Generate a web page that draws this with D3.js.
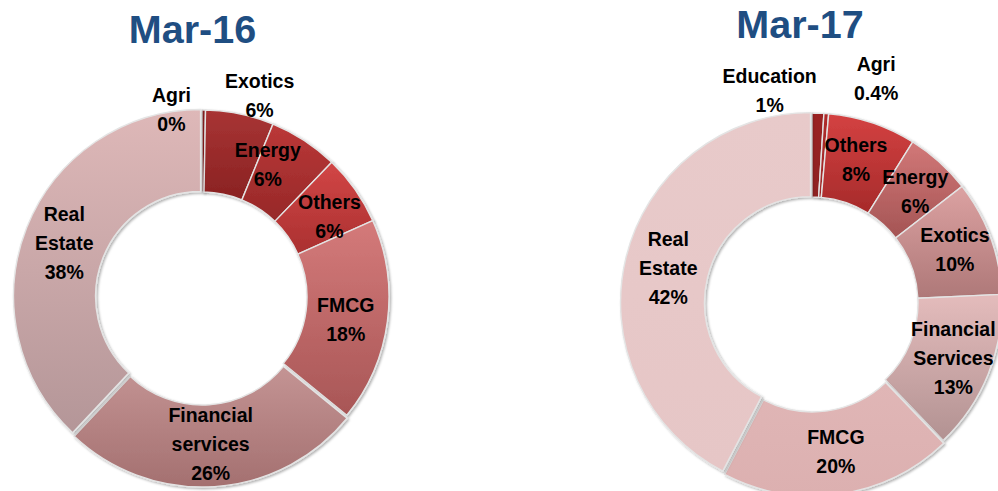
<!DOCTYPE html>
<html><head><meta charset="utf-8">
<script src="https://cdn.jsdelivr.net/npm/d3@7"></script>
<style>html,body{margin:0;padding:0;background:#fff;overflow:hidden}</style>
</head><body><svg id="c" width="998" height="491"></svg>
<script>
// ---- data ----
const titles = ["Mar-16", "Mar-17"];
const categories16 = ["Agri", "Exotics", "Energy", "Others", "FMCG", "Financial services", "Real Estate"];
const values16 = [0.3, 5.9, 6.0, 6.1, 17.6, 26.1, 38.0];
const labels16 = ["0%", "6%", "6%", "6%", "18%", "26%", "38%"];
const categories17 = ["Education", "Agri", "Others", "Energy", "Exotics", "Financial Services", "FMCG", "Real Estate"];
const values17 = [1.0, 0.4, 7.5, 5.6, 9.8, 13.6, 19.8, 42.4];
const labels17 = ["1%", "0.4%", "8%", "6%", "10%", "13%", "20%", "42%"];

// ---- styling / layout ----
const top16 = ["#8e2020", "#a83434", "#bb3838", "#d24646", "#d47a7a", "#c49494", "#deb8b8"];
const bot16 = ["#821c1c", "#8a2222", "#962828", "#aa3030", "#a85656", "#a47070", "#b49698"];
const top17 = ["#9a2424", "#b02c2c", "#d44242", "#d27878", "#dca2a2", "#e4bcbc", "#e0b6b6", "#e8caca"];
const bot17 = ["#8e2020", "#a02828", "#a62a2a", "#a45454", "#ae7878", "#b29292", "#dcb0b0", "#e6c6c6"];

const layouts = [
  { cx: 202, cy: 297, ro: 187, ri: 105, tx: 192.5, ty: 43,
    explode: [0, 0, 0, 0, 0, 3, 1.5],
    nudge: [[-32, -42], [28, -59], [-14, -10], [8, 3], [-1, 3], [-1, 1], [-2, 0]] },
  { cx: 812, cy: 303, ro: 190, ri: 106, tx: 800, ty: 38,
    explode: [0, 0, 0, 0, 0, 0, 3, 1.5],
    nudge: [[-47, -65], [53, -77], [-3, -3], [4, -2], [4, -2], [4, 0], [3, 2], [0, 0]] }
];

const charts = [
  { title: titles[0], cats: categories16, vals: values16, labs: labels16, top: top16, bot: bot16 },
  { title: titles[1], cats: categories17, vals: values17, labs: labels17, top: top17, bot: bot17 }
];

const svg = d3.select("#c");
const defs = svg.append("defs");
const f = defs.append("filter").attr("id", "sh").attr("x", "-10%").attr("y", "-10%").attr("width", "130%").attr("height", "130%");
f.append("feDropShadow").attr("dx", 1.5).attr("dy", 1.5).attr("stdDeviation", 1.2)
  .attr("flood-color", "#000").attr("flood-opacity", 0.3);

const FONT = "'Liberation Sans', Arial, sans-serif";
const LH = 29;

charts.forEach((c, ci) => {
  const L = layouts[ci];
  const pie = d3.pie().sort(null).value(d => d)(c.vals);
  const arc = d3.arc().innerRadius(L.ri).outerRadius(L.ro);
  const labArc = d3.arc().innerRadius((L.ri + L.ro) / 2).outerRadius((L.ri + L.ro) / 2);

  c.vals.forEach((v, i) => {
    const g = defs.append("linearGradient").attr("id", `g${ci}_${i}`)
      .attr("x1", 0).attr("y1", 0).attr("x2", 0).attr("y2", 1);
    g.append("stop").attr("offset", "0%").attr("stop-color", c.top[i]);
    g.append("stop").attr("offset", "100%").attr("stop-color", c.bot[i]);
  });

  const g = svg.append("g").attr("transform", `translate(${L.cx},${L.cy})`);
  g.selectAll("path").data(pie).join("path")
    .attr("d", arc)
    .attr("transform", (d, i) => {
      const a = (d.startAngle + d.endAngle) / 2, e = L.explode[i];
      return `translate(${e * Math.sin(a)},${-e * Math.cos(a)})`;
    })
    .attr("fill", (d, i) => `url(#g${ci}_${i})`)
    .attr("stroke", "#e4e4e4").attr("stroke-width", 1.4)
    .attr("filter", "url(#sh)");

  // labels
  pie.forEach((d, i) => {
    const [x, y] = labArc.centroid(d);
    const lines = c.cats[i].split(" ").concat([c.labs[i]]);
    const n = lines.length;
    const bx = x + L.nudge[i][0], by = y + L.nudge[i][1];
    const t = g.append("text")
      .attr("text-anchor", "middle")
      .attr("font-family", FONT).attr("font-weight", "bold").attr("font-size", 19.5)
      .attr("fill", "#000");
    lines.forEach((s, k) => {
      t.append("tspan").attr("x", bx)
        .attr("y", by + 7 + (k - (n - 1) / 2) * LH)
        .text(s);
    });
  });

  svg.append("text").attr("x", L.tx).attr("y", L.ty)
    .attr("text-anchor", "middle")
    .attr("font-family", FONT).attr("font-weight", "bold").attr("font-size", 39.5)
    .attr("fill", "#1f4e82").text(c.title);
});
</script>
</body></html>
